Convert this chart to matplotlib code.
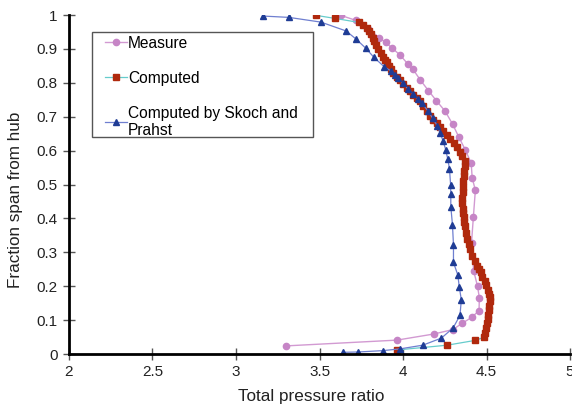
import matplotlib
matplotlib.use("Agg")
import matplotlib.pyplot as plt
from matplotlib.patches import Rectangle

plt.rcParams['font.family'] = ['Liberation Sans', 'DejaVu Sans']

# Measure (pink circles)
measure_x = [3.627, 3.719, 3.790, 3.858, 3.896, 3.936, 3.982, 4.030, 4.058, 4.104,
             4.152, 4.200, 4.251, 4.297, 4.335, 4.372, 4.408, 4.414, 4.433, 4.421,
             4.410, 4.423, 4.446, 4.457, 4.455, 4.411, 4.352, 4.298, 4.184, 3.964, 3.302]
measure_y = [0.999, 0.984, 0.960, 0.933, 0.919, 0.902, 0.882, 0.855, 0.841, 0.808,
             0.777, 0.747, 0.717, 0.678, 0.639, 0.603, 0.563, 0.520, 0.483, 0.403,
             0.328, 0.245, 0.200, 0.166, 0.128, 0.108, 0.090, 0.072, 0.059, 0.041, 0.024]

# Computed (red squares)
computed_x = [3.478, 3.593, 3.738, 3.762, 3.783, 3.797, 3.808, 3.818, 3.828, 3.840,
              3.852, 3.867, 3.882, 3.892, 3.902, 3.915, 3.926, 3.942, 3.962, 3.982,
              4.002, 4.022, 4.042, 4.062, 4.082, 4.102, 4.122, 4.142, 4.162, 4.182,
              4.202, 4.222, 4.242, 4.262, 4.284, 4.305, 4.323, 4.341, 4.356, 4.371,
              4.369, 4.367, 4.365, 4.362, 4.359, 4.357, 4.356, 4.356, 4.357, 4.361,
              4.365, 4.368, 4.371, 4.378, 4.384, 4.392, 4.401, 4.414, 4.428, 4.441,
              4.452, 4.464, 4.474, 4.488, 4.498, 4.508, 4.516, 4.521, 4.519, 4.516,
              4.513, 4.510, 4.508, 4.502, 4.496, 4.490, 4.484, 4.430, 4.264, 3.966]
computed_y = [0.999, 0.990, 0.978, 0.970, 0.963, 0.953, 0.943, 0.933, 0.923, 0.911,
              0.899, 0.888, 0.877, 0.868, 0.860, 0.850, 0.840, 0.828, 0.818, 0.808,
              0.797, 0.786, 0.776, 0.765, 0.755, 0.745, 0.731, 0.716, 0.703, 0.690,
              0.680, 0.671, 0.658, 0.646, 0.634, 0.622, 0.610, 0.597, 0.583, 0.568,
              0.555, 0.540, 0.525, 0.510, 0.493, 0.477, 0.461, 0.444, 0.428, 0.415,
              0.403, 0.390, 0.378, 0.358, 0.339, 0.325, 0.310, 0.290, 0.275, 0.260,
              0.250, 0.241, 0.228, 0.215, 0.203, 0.190, 0.178, 0.167, 0.155, 0.142,
              0.129, 0.116, 0.103, 0.090, 0.076, 0.062, 0.049, 0.040, 0.026, 0.012]

# Computed by Skoch and Prahst (blue triangles)
skoch_x = [3.160, 3.317, 3.509, 3.659, 3.719, 3.777, 3.826, 3.888, 3.928, 3.952,
           3.970, 3.998, 4.028, 4.062, 4.090, 4.112, 4.148, 4.178, 4.206, 4.222,
           4.240, 4.256, 4.268, 4.278, 4.285, 4.286, 4.286, 4.296, 4.302, 4.302,
           4.328, 4.337, 4.349, 4.341, 4.300, 4.230, 4.118, 3.980, 3.880, 3.733, 3.641]
skoch_y = [0.997, 0.993, 0.979, 0.953, 0.929, 0.902, 0.875, 0.847, 0.835, 0.823,
           0.814, 0.800, 0.783, 0.766, 0.752, 0.741, 0.718, 0.695, 0.673, 0.652,
           0.628, 0.602, 0.574, 0.547, 0.498, 0.471, 0.435, 0.381, 0.322, 0.270,
           0.233, 0.197, 0.160, 0.114, 0.077, 0.047, 0.026, 0.015, 0.010, 0.006, 0.005]

fig = plt.figure(figsize=(5.72, 4.07), dpi=100)
ax = fig.add_axes([0.1206, 0.1302, 0.876, 0.8329])

ax.plot(measure_x, measure_y, color='#D29AD2', lw=1.0, marker='o', ms=4.5,
        mfc='#C685C6', mec='#C685C6', label='Measure')
ax.plot(computed_x, computed_y, color='#66CCCC', lw=0.9, marker='s', ms=4.8,
        mfc='#B0290D', mec='#B0290D', label='Computed')
ax.plot(skoch_x, skoch_y, color='#6F7FD0', lw=0.9, marker='^', ms=5,
        mfc='#1F3C95', mec='#1F3C95', label='Computed by Skoch and\nPrahst')

ax.set_xlim(2, 5)
ax.set_ylim(0, 1)
ax.set_xticks([2, 2.5, 3, 3.5, 4, 4.5, 5])
ax.set_xticklabels(['2', '2.5', '3', '3.5', '4', '4.5', '5'])
ax.set_yticks([0, 0.1, 0.2, 0.3, 0.4, 0.5, 0.6, 0.7, 0.8, 0.9, 1])
ax.set_yticklabels(['0', '0.1', '0.2', '0.3', '0.4', '0.5', '0.6', '0.7', '0.8', '0.9', '1'])

for side in ['top', 'right']:
    ax.spines[side].set_visible(False)
for side in ['left', 'bottom']:
    ax.spines[side].set_linewidth(2)
    ax.spines[side].set_color('black')
ax.tick_params(direction='inout', length=8, width=1, color='#555555',
               labelsize=11, labelcolor='#222222', pad=4)

ax.set_xlabel('Total pressure ratio', fontsize=12.3, color='#222222')
ax.xaxis.set_label_coords(0.484, -0.104)
ax.set_ylabel('Fraction span from hub', fontsize=12.3, color='#222222')
ax.yaxis.set_label_coords(-0.092, 0.454)

# legend box drawn separately (wide side padding, tight top/bottom)
ax.add_patch(Rectangle((0.0453, 0.640), 0.4411, 0.310, transform=ax.transAxes,
                       facecolor='white', edgecolor='#555555', lw=1, zorder=4))
leg = ax.legend(loc='upper left', bbox_to_anchor=(0.0719, 0.939), fontsize=11.2,
                frameon=False, labelspacing=1.28, handlelength=1.4,
                handletextpad=0.08, borderpad=0, borderaxespad=0)
leg.set_zorder(5)

fig.savefig('out.png', dpi=100)
